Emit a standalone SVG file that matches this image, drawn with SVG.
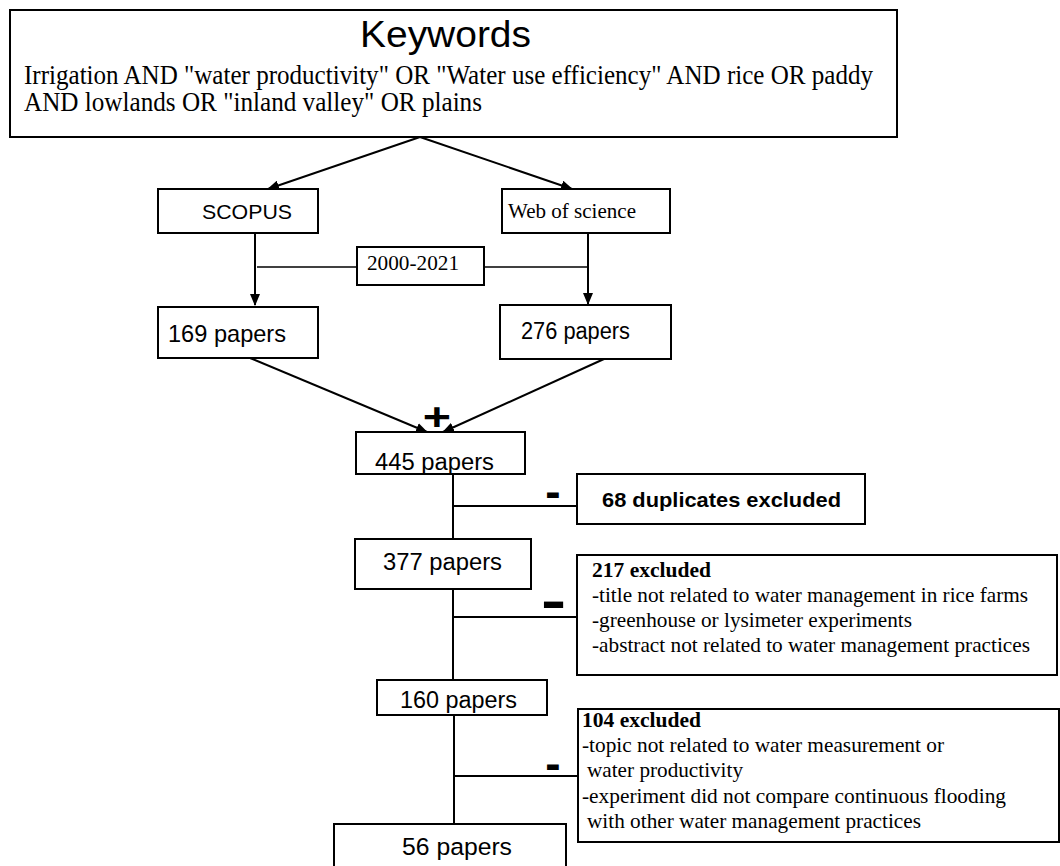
<svg xmlns="http://www.w3.org/2000/svg" width="1060" height="866" viewBox="0 0 1060 866">
<defs>
<style>
.box{fill:#fff;stroke:#000;stroke-width:2}
.ln{fill:none;stroke:#000;stroke-width:2}
.thin{fill:none;stroke:#000;stroke-width:1.6}
.sans{font-family:"Liberation Sans",Arial,sans-serif;fill:#000}
.serif{font-family:"Liberation Serif","Times New Roman",serif;fill:#000}
.b{font-weight:bold}
</style>
<marker id="arr" markerUnits="userSpaceOnUse" markerWidth="12" markerHeight="10" refX="11" refY="5" orient="auto">
<path d="M0,0 L12,5 L0,10 Z" fill="#000"/>
</marker>
</defs>
<rect width="1060" height="866" fill="#fff"/>

<g id="connectors">
<line class="ln" x1="420" y1="137" x2="268" y2="189" marker-end="url(#arr)"/>
<line class="ln" x1="420" y1="137" x2="572" y2="189" marker-end="url(#arr)"/>
<line class="ln" x1="255" y1="233" x2="255" y2="305" marker-end="url(#arr)"/>
<line class="ln" x1="588" y1="233" x2="588" y2="304" marker-end="url(#arr)"/>
<line class="thin" x1="257" y1="267" x2="357" y2="267"/>
<line class="thin" x1="484" y1="267" x2="588" y2="267"/>
<line class="ln" x1="250" y1="358" x2="427" y2="432" marker-end="url(#arr)"/>
<line class="ln" x1="604" y1="359" x2="443" y2="432" marker-end="url(#arr)"/>
<line class="ln" x1="453" y1="474" x2="453" y2="539"/>
<line class="ln" x1="453" y1="506" x2="577" y2="506"/>
<line class="ln" x1="453" y1="589" x2="453" y2="680"/>
<line class="ln" x1="453" y1="617" x2="577" y2="617"/>
<line class="ln" x1="454" y1="715" x2="454" y2="824"/>
<line class="ln" x1="454" y1="776" x2="578" y2="776"/>
<text class="sans b" font-size="44" text-anchor="middle" transform="translate(437,416.5) scale(1.1,0.9)" x="0" y="15.5">+</text>
<text class="sans b" font-size="46" text-anchor="middle" x="553" y="506.7">-</text>
<text class="sans b" font-size="54" text-anchor="middle" transform="translate(553.5,605.5) scale(1.4,1)" x="0" y="13.8">-</text>
<text class="sans b" font-size="46" text-anchor="middle" x="553" y="779.2">-</text>
</g>

<g id="keywords">
<rect class="box" x="10" y="10" width="887" height="127"/>
<text class="sans" font-size="36" x="360" y="47" textLength="171" lengthAdjust="spacingAndGlyphs">Keywords</text>
<text class="serif" font-size="26.5" x="24" y="84" textLength="849" lengthAdjust="spacingAndGlyphs">Irrigation AND "water productivity" OR "Water use efficiency" AND rice OR paddy</text>
<text class="serif" font-size="26.5" x="24" y="111" textLength="458" lengthAdjust="spacingAndGlyphs">AND lowlands OR "inland valley" OR plains</text>
</g>

<g id="scopus">
<rect class="box" x="158" y="189" width="160" height="44"/>
<text class="sans" font-size="21" x="202" y="219" textLength="90" lengthAdjust="spacingAndGlyphs">SCOPUS</text>
</g>

<g id="wos">
<rect class="box" x="502" y="189" width="168" height="44"/>
<text class="serif" font-size="21.5" x="508" y="218" textLength="128" lengthAdjust="spacingAndGlyphs">Web of science</text>
</g>

<g id="years">
<rect class="box" x="357" y="247" width="127" height="38"/>
<text class="serif" font-size="21" x="367" y="270" textLength="92" lengthAdjust="spacingAndGlyphs">2000-2021</text>
</g>

<g id="p169">
<rect class="box" x="158" y="307" width="160" height="51"/>
<text class="sans" font-size="24" x="168" y="342" textLength="118" lengthAdjust="spacingAndGlyphs">169 papers</text>
</g>

<g id="p276">
<rect class="box" x="500" y="305" width="171" height="54"/>
<text class="sans" font-size="23" x="521" y="339" textLength="109" lengthAdjust="spacingAndGlyphs">276 papers</text>
</g>

<g id="p445">
<rect class="box" x="356" y="432" width="169" height="42"/>
<text class="sans" font-size="23.5" x="375" y="470" textLength="119" lengthAdjust="spacingAndGlyphs">445 papers</text>
</g>

<g id="dup">
<rect class="box" x="577" y="474" width="288" height="50"/>
<text class="sans b" font-size="21" x="602" y="507" textLength="239" lengthAdjust="spacingAndGlyphs">68 duplicates excluded</text>
</g>

<g id="p377">
<rect class="box" x="355" y="539" width="176" height="50"/>
<text class="sans" font-size="23.5" x="383" y="570" textLength="119" lengthAdjust="spacingAndGlyphs">377 papers</text>
</g>

<g id="ex217">
<rect class="box" x="577" y="555" width="480" height="120"/>
<text class="serif b" font-size="21.5" x="592" y="577" textLength="119" lengthAdjust="spacingAndGlyphs">217 excluded</text>
<text class="serif" font-size="21.5" x="592" y="602" textLength="436" lengthAdjust="spacingAndGlyphs">-title not related to water management in rice farms</text>
<text class="serif" font-size="21.5" x="592" y="627" textLength="320" lengthAdjust="spacingAndGlyphs">-greenhouse or lysimeter experiments</text>
<text class="serif" font-size="21.5" x="592" y="652" textLength="438" lengthAdjust="spacingAndGlyphs">-abstract not related to water management practices</text>
</g>

<g id="p160">
<rect class="box" x="377" y="680" width="170" height="35"/>
<text class="sans" font-size="23.5" x="400" y="708" textLength="117" lengthAdjust="spacingAndGlyphs">160 papers</text>
</g>

<g id="ex104">
<rect class="box" x="578" y="709" width="481" height="133"/>
<text class="serif b" font-size="21.5" x="582" y="727" textLength="119" lengthAdjust="spacingAndGlyphs">104 excluded</text>
<text class="serif" font-size="21.5" x="582" y="752" textLength="362" lengthAdjust="spacingAndGlyphs">-topic not related to water measurement or</text>
<text class="serif" font-size="21.5" x="587" y="777" textLength="156" lengthAdjust="spacingAndGlyphs">water productivity</text>
<text class="serif" font-size="21.5" x="582" y="803" textLength="424" lengthAdjust="spacingAndGlyphs">-experiment did not compare continuous flooding</text>
<text class="serif" font-size="21.5" x="587" y="828" textLength="334" lengthAdjust="spacingAndGlyphs">with other water management practices</text>
</g>

<g id="p56">
<rect class="box" x="334" y="824" width="232" height="60"/>
<text class="sans" font-size="24.5" x="402" y="855" textLength="110" lengthAdjust="spacingAndGlyphs">56 papers</text>
</g>
</svg>
